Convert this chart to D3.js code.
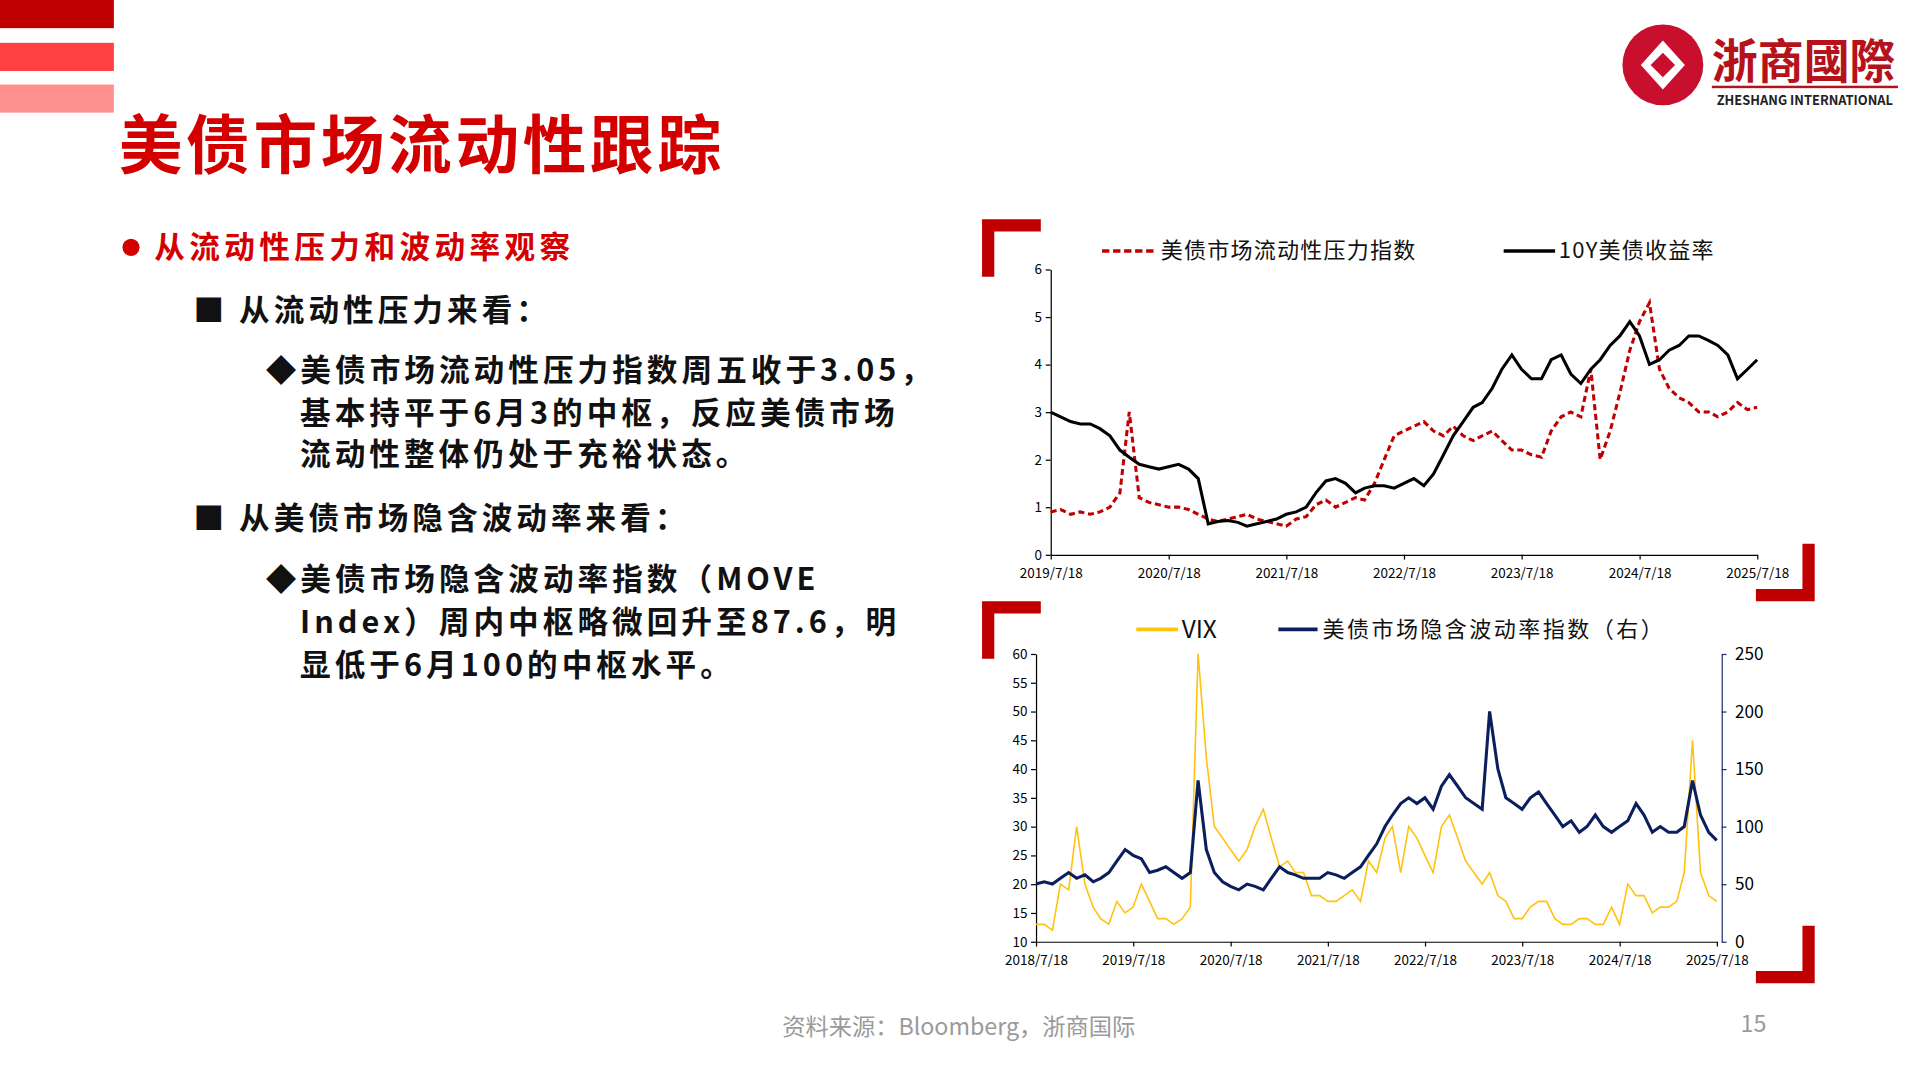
<!DOCTYPE html>
<html><head><meta charset="utf-8">
<script src="https://cdn.jsdelivr.net/npm/d3@7"></script>
<style>body{margin:0;background:#fff}svg{display:block}text{font-family:"Noto Sans CJK SC","Noto Sans",sans-serif}</style>
</head><body><svg id="s" width="1920" height="1080" viewBox="0 0 1568 882"></svg>
<script>
// ---- data ----
const topStart = "2019-07-18";
const yield10Y = [3.0,2.9,2.8,2.75,2.75,2.65,2.5,2.2,2.05,1.9,1.85,1.8,1.85,1.9,1.8,1.6,0.65,0.7,0.72,0.68,0.6,0.65,0.7,0.75,0.85,0.9,1.0,1.3,1.55,1.6,1.5,1.3,1.4,1.45,1.45,1.4,1.5,1.6,1.45,1.7,2.1,2.5,2.8,3.1,3.2,3.5,3.9,4.2,3.9,3.7,3.7,4.1,4.2,3.8,3.6,3.9,4.1,4.4,4.6,4.9,4.6,4.0,4.1,4.3,4.4,4.6,4.6,4.5,4.4,4.2,3.7,3.9,4.1];
const liqIndex = [0.9,0.95,0.85,0.9,0.85,0.9,1.0,1.3,3.0,1.2,1.1,1.05,1.0,1.0,0.95,0.85,0.75,0.7,0.75,0.8,0.85,0.75,0.7,0.65,0.6,0.75,0.8,1.05,1.15,1.0,1.1,1.2,1.15,1.5,2.0,2.5,2.6,2.7,2.8,2.6,2.5,2.7,2.5,2.4,2.5,2.6,2.4,2.2,2.2,2.1,2.05,2.6,2.9,3.0,2.9,3.9,2.0,2.6,3.4,4.3,4.9,5.3,3.9,3.5,3.3,3.2,3.0,3.0,2.9,3.0,3.2,3.05,3.1];
const topTicks = ["2019/7/18","2020/7/18","2021/7/18","2022/7/18","2023/7/18","2024/7/18","2025/7/18"];
const botStart = "2018-07-18";
const vix = [13,13,12,20,19,30,20,16,14,13,17,15,16,20,17,14,14,13,14,16,60,42,30,28,26,24,26,30,33,28,23,24,22,22,18,18,17,17,18,19,17,24,22,28,30,22,30,28,25,22,30,32,28,24,22,20,22,18,17,14,14,16,17,17,14,13,13,14,14,13,13,16,13,20,18,18,15,16,16,17,22,45,22,18,17];
const move = [50,52,50,55,60,55,58,52,55,60,70,80,75,72,60,62,65,60,55,60,140,80,60,52,48,45,50,48,45,55,65,60,58,55,55,55,60,58,55,60,65,75,85,100,110,120,125,120,125,115,135,145,135,125,120,115,200,150,125,120,115,125,130,120,110,100,105,95,100,110,100,95,100,105,120,110,95,100,95,95,100,140,110,95,88];
const botTicks = ["2018/7/18","2019/7/18","2020/7/18","2021/7/18","2022/7/18","2023/7/18","2024/7/18","2025/7/18"];

const svg = d3.select("#s");
const parse = d3.timeParse("%Y-%m-%d"), tp = d3.timeParse("%Y/%m/%d");
const monthly = (start, n) => d3.range(n).map(i => d3.timeMonth.offset(parse(start), i));

// header
[["#c00000",0],["#ff4040",35],["#ff9090",69]].forEach(([c,y])=>svg.append("rect").attr("x",0).attr("y",y).attr("width",93).attr("height",23).attr("fill",c));
svg.append("text").attr("x",97).attr("y",137).attr("font-size",52).attr("font-weight",700).attr("fill","#d40000").attr("letter-spacing",3).text("美债市场流动性跟踪");
// logo
svg.append("circle").attr("cx",1358).attr("cy",53).attr("r",33).attr("fill","#c8102e");
svg.append("path").attr("d","M1358 33 L1376 53 L1358 73 L1340 53 Z").attr("fill","#fff");
svg.append("path").attr("d","M1358 43 L1368 53 L1358 63 L1348 53 Z").attr("fill","#c8102e");
svg.append("text").attr("x",1398).attr("y",64).attr("font-size",38).attr("font-weight",700).attr("fill","#b5121b").attr("textLength",150).attr("lengthAdjust","spacingAndGlyphs").text("浙商國際");
svg.append("rect").attr("x",1398).attr("y",70).attr("width",152).attr("height",2).attr("fill","#b5121b");
svg.append("text").attr("x",1402).attr("y",86).attr("font-size",11).attr("font-family","Liberation Serif").attr("font-weight",700).attr("fill","#222").attr("textLength",144).attr("lengthAdjust","spacingAndGlyphs").text("ZHESHANG INTERNATIONAL");

// body text
svg.append("circle").attr("cx",107).attr("cy",202).attr("r",7).attr("fill","#d40000");
const T=(x,y,s,c,ls)=>svg.append("text").attr("x",x).attr("y",y).attr("font-size",25).attr("font-weight",700).attr("fill",c||"#111").attr("letter-spacing",ls||3.3).text(s);
T(126,211,"从流动性压力和波动率观察","#d40000",3.6);
T(158,262,"■ 从流动性压力来看：");
T(217,311,"◆美债市场流动性压力指数周五收于3.05，");
T(245,346,"基本持平于6月3的中枢，反应美债市场");
T(245,380,"流动性整体仍处于充裕状态。");
T(158,432,"■ 从美债市场隐含波动率来看：");
T(217,482,"◆美债市场隐含波动率指数（MOVE");
T(245,517,"Index）周内中枢略微回升至87.6，明");
T(245,552,"显低于6月100的中枢水平。");
svg.append("text").attr("x",783).attr("y",845).attr("text-anchor","middle").attr("font-size",19).attr("fill","#9a9a9a").text("资料来源：Bloomberg，浙商国际");
svg.append("text").attr("x",1432).attr("y",843).attr("text-anchor","middle").attr("font-size",19).attr("fill","#9a9a9a").text("15");

// brackets
function bracketTL(x,y){svg.append("path").attr("d",`M${x} ${y}h48v10h-38v37h-10z`).attr("fill","#c00000");}
function bracketBR(x,y){svg.append("path").attr("d",`M${x} ${y}h-48v-10h38v-37h10z`).attr("fill","#c00000");}
bracketTL(802,179); bracketBR(1482,491); bracketTL(802,491); bracketBR(1482,803);

function axisStyle(g){g.selectAll("text").attr("font-size",11).attr("font-family","Liberation Sans").attr("fill","#000");g.selectAll("path,line").attr("stroke","#000");}

// top chart
{
 const dates = monthly(topStart, yield10Y.length);
 const x = d3.scaleTime().domain([tp(topTicks[0]), tp(topTicks[6])]).range([858,1435]);
 const y = d3.scaleLinear().domain([0,6]).range([453,220]);
 const gx = svg.append("g").attr("transform","translate(0,453)").call(d3.axisBottom(x).tickValues(topTicks.map(tp)).tickFormat((d,i)=>topTicks[i]).tickSize(4).tickSizeOuter(0));
 axisStyle(gx); gx.selectAll("text").attr("dy","1.1em");
 const gy = svg.append("g").attr("transform","translate(858,0)").call(d3.axisLeft(y).ticks(6).tickSize(4).tickSizeOuter(0));
 axisStyle(gy);
 const ln = arr => d3.line().x((d,i)=>x(dates[i])).y(d=>y(d))(arr);
 svg.append("path").attr("d",ln(liqIndex)).attr("fill","none").attr("stroke","#c00000").attr("stroke-width",2.5).attr("stroke-dasharray","5,3");
 svg.append("path").attr("d",ln(yield10Y)).attr("fill","none").attr("stroke","#000").attr("stroke-width",2.5);
 svg.append("line").attr("x1",900).attr("x2",944).attr("y1",205).attr("y2",205).attr("stroke","#c00000").attr("stroke-width",3).attr("stroke-dasharray","6,3");
 svg.append("text").attr("x",948).attr("y",211).attr("font-size",18).attr("fill","#111").attr("letter-spacing",1).text("美债市场流动性压力指数");
 svg.append("line").attr("x1",1228).attr("x2",1270).attr("y1",205).attr("y2",205).attr("stroke","#000").attr("stroke-width",3);
 svg.append("text").attr("x",1273).attr("y",211).attr("font-size",18).attr("fill","#111").attr("letter-spacing",1).text("10Y美债收益率");
}
// bottom chart
{
 const dates = monthly(botStart, vix.length);
 const x = d3.scaleTime().domain([tp(botTicks[0]), tp(botTicks[7])]).range([846,1402]);
 const yl = d3.scaleLinear().domain([10,60]).range([769,534]);
 const yr = d3.scaleLinear().domain([0,250]).range([769,534]);
 const gx = svg.append("g").attr("transform","translate(0,769)").call(d3.axisBottom(x).tickValues(botTicks.map(tp)).tickFormat((d,i)=>botTicks[i]).tickSize(4).tickSizeOuter(0));
 axisStyle(gx); gx.selectAll("text").attr("dy","1.1em");
 const gl = svg.append("g").attr("transform","translate(846,0)").call(d3.axisLeft(yl).ticks(10).tickSize(4).tickSizeOuter(0));
 axisStyle(gl);
 const gr = svg.append("g").attr("transform","translate(1406,0)").call(d3.axisRight(yr).tickValues([0,50,100,150,200,250]).tickSize(4).tickSizeOuter(0));
 axisStyle(gr); gr.selectAll("text").attr("font-size",14).attr("dx",4); gr.select("path").attr("stroke","#1f2f6b"); gr.selectAll("line").attr("stroke","#1f2f6b");
 svg.append("path").attr("d",d3.line().x((d,i)=>x(dates[i])).y(d=>yl(d))(vix)).attr("fill","none").attr("stroke","#ffc20e").attr("stroke-width",1.3);
 svg.append("path").attr("d",d3.line().x((d,i)=>x(dates[i])).y(d=>yr(d))(move)).attr("fill","none").attr("stroke","#0a1f5c").attr("stroke-width",2.5);
 svg.append("line").attr("x1",928).attr("x2",962).attr("y1",514).attr("y2",514).attr("stroke","#ffc20e").attr("stroke-width",3);
 svg.append("text").attr("x",965).attr("y",521).attr("font-size",20).attr("fill","#111").text("VIX");
 svg.append("line").attr("x1",1044).attr("x2",1076).attr("y1",514).attr("y2",514).attr("stroke","#0a1f5c").attr("stroke-width",3);
 svg.append("text").attr("x",1080).attr("y",520).attr("font-size",18).attr("fill","#111").attr("letter-spacing",2).text("美债市场隐含波动率指数（右）");
}
</script></body></html>
